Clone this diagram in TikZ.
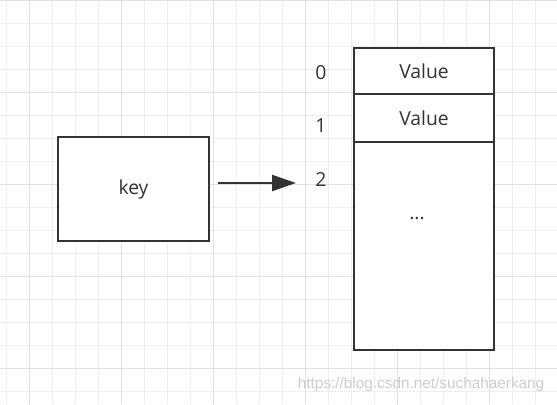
\documentclass[tikz,border=0pt]{standalone}
\usepackage{fontspec}
\setmainfont{Open Sans}
\newfontfamily\markfont{Liberation Sans}
\usetikzlibrary{arrows.meta,positioning}
\definecolor{gridminor}{RGB}{238,238,238}
\definecolor{gridmajor}{RGB}{224,224,224}
\definecolor{inkgray}{RGB}{51,51,51}

\begin{document}
\begin{tikzpicture}[x=0.75pt, y=-0.75pt,
    every node/.style={font=\fontsize{14.5}{17}\selectfont, text=inkgray},
    cellbox/.style={draw=inkgray, fill=white, line width=1.8pt, inner sep=0pt, outer sep=0pt, minimum width=105pt}]
    \useasboundingbox (0,0) rectangle (557,404);
    % background grid
    \foreach \gx in {0,...,23} \draw[gridminor, line width=0.75pt] (6.7+23*\gx,0) -- (6.7+23*\gx,404);
    \foreach \gy in {0,...,17} \draw[gridminor, line width=0.75pt] (0,0.3+23*\gy) -- (557,0.3+23*\gy);
    \foreach \gx in {0,...,5} \draw[gridmajor, line width=0.9pt] (29.7+92*\gx,0) -- (29.7+92*\gx,404);
    \foreach \gy in {0,...,4} \draw[gridmajor, line width=0.9pt] (0,0.3+92*\gy) -- (557,0.3+92*\gy);

    \node[cellbox, minimum width=113.25pt, minimum height=78pt] (key) at (133.5,189) {key};

    \node[cellbox, minimum height=34.5pt] (cell0) at (424,71) {Value};
    \node[cellbox, minimum height=36pt, below=0pt of cell0] (cell1) {Value};
    \node[cellbox, minimum height=156pt, below=0pt of cell1] (rest) {};
    \node[anchor=base] (dots) at (417,219) {...};

    \node (idx0) at (321,73)  {0};
    \node (idx1) at (321,126) {1};
    \node (idx2) at (321,179) {2};

    \coordinate (tail) at (218,183);
    \coordinate (head) at (296,183);
    \draw[-{Triangle[length=18pt,width=12pt]}, draw=inkgray, fill=inkgray, line width=1.8pt] (tail) -- (head);

    \node[anchor=east, font=\markfont\fontsize{11.5}{13}\selectfont, text=black!20] (mark) at (549,385) {https://blog.csdn.net/suchahaerkang};
\end{tikzpicture}
\end{document}
